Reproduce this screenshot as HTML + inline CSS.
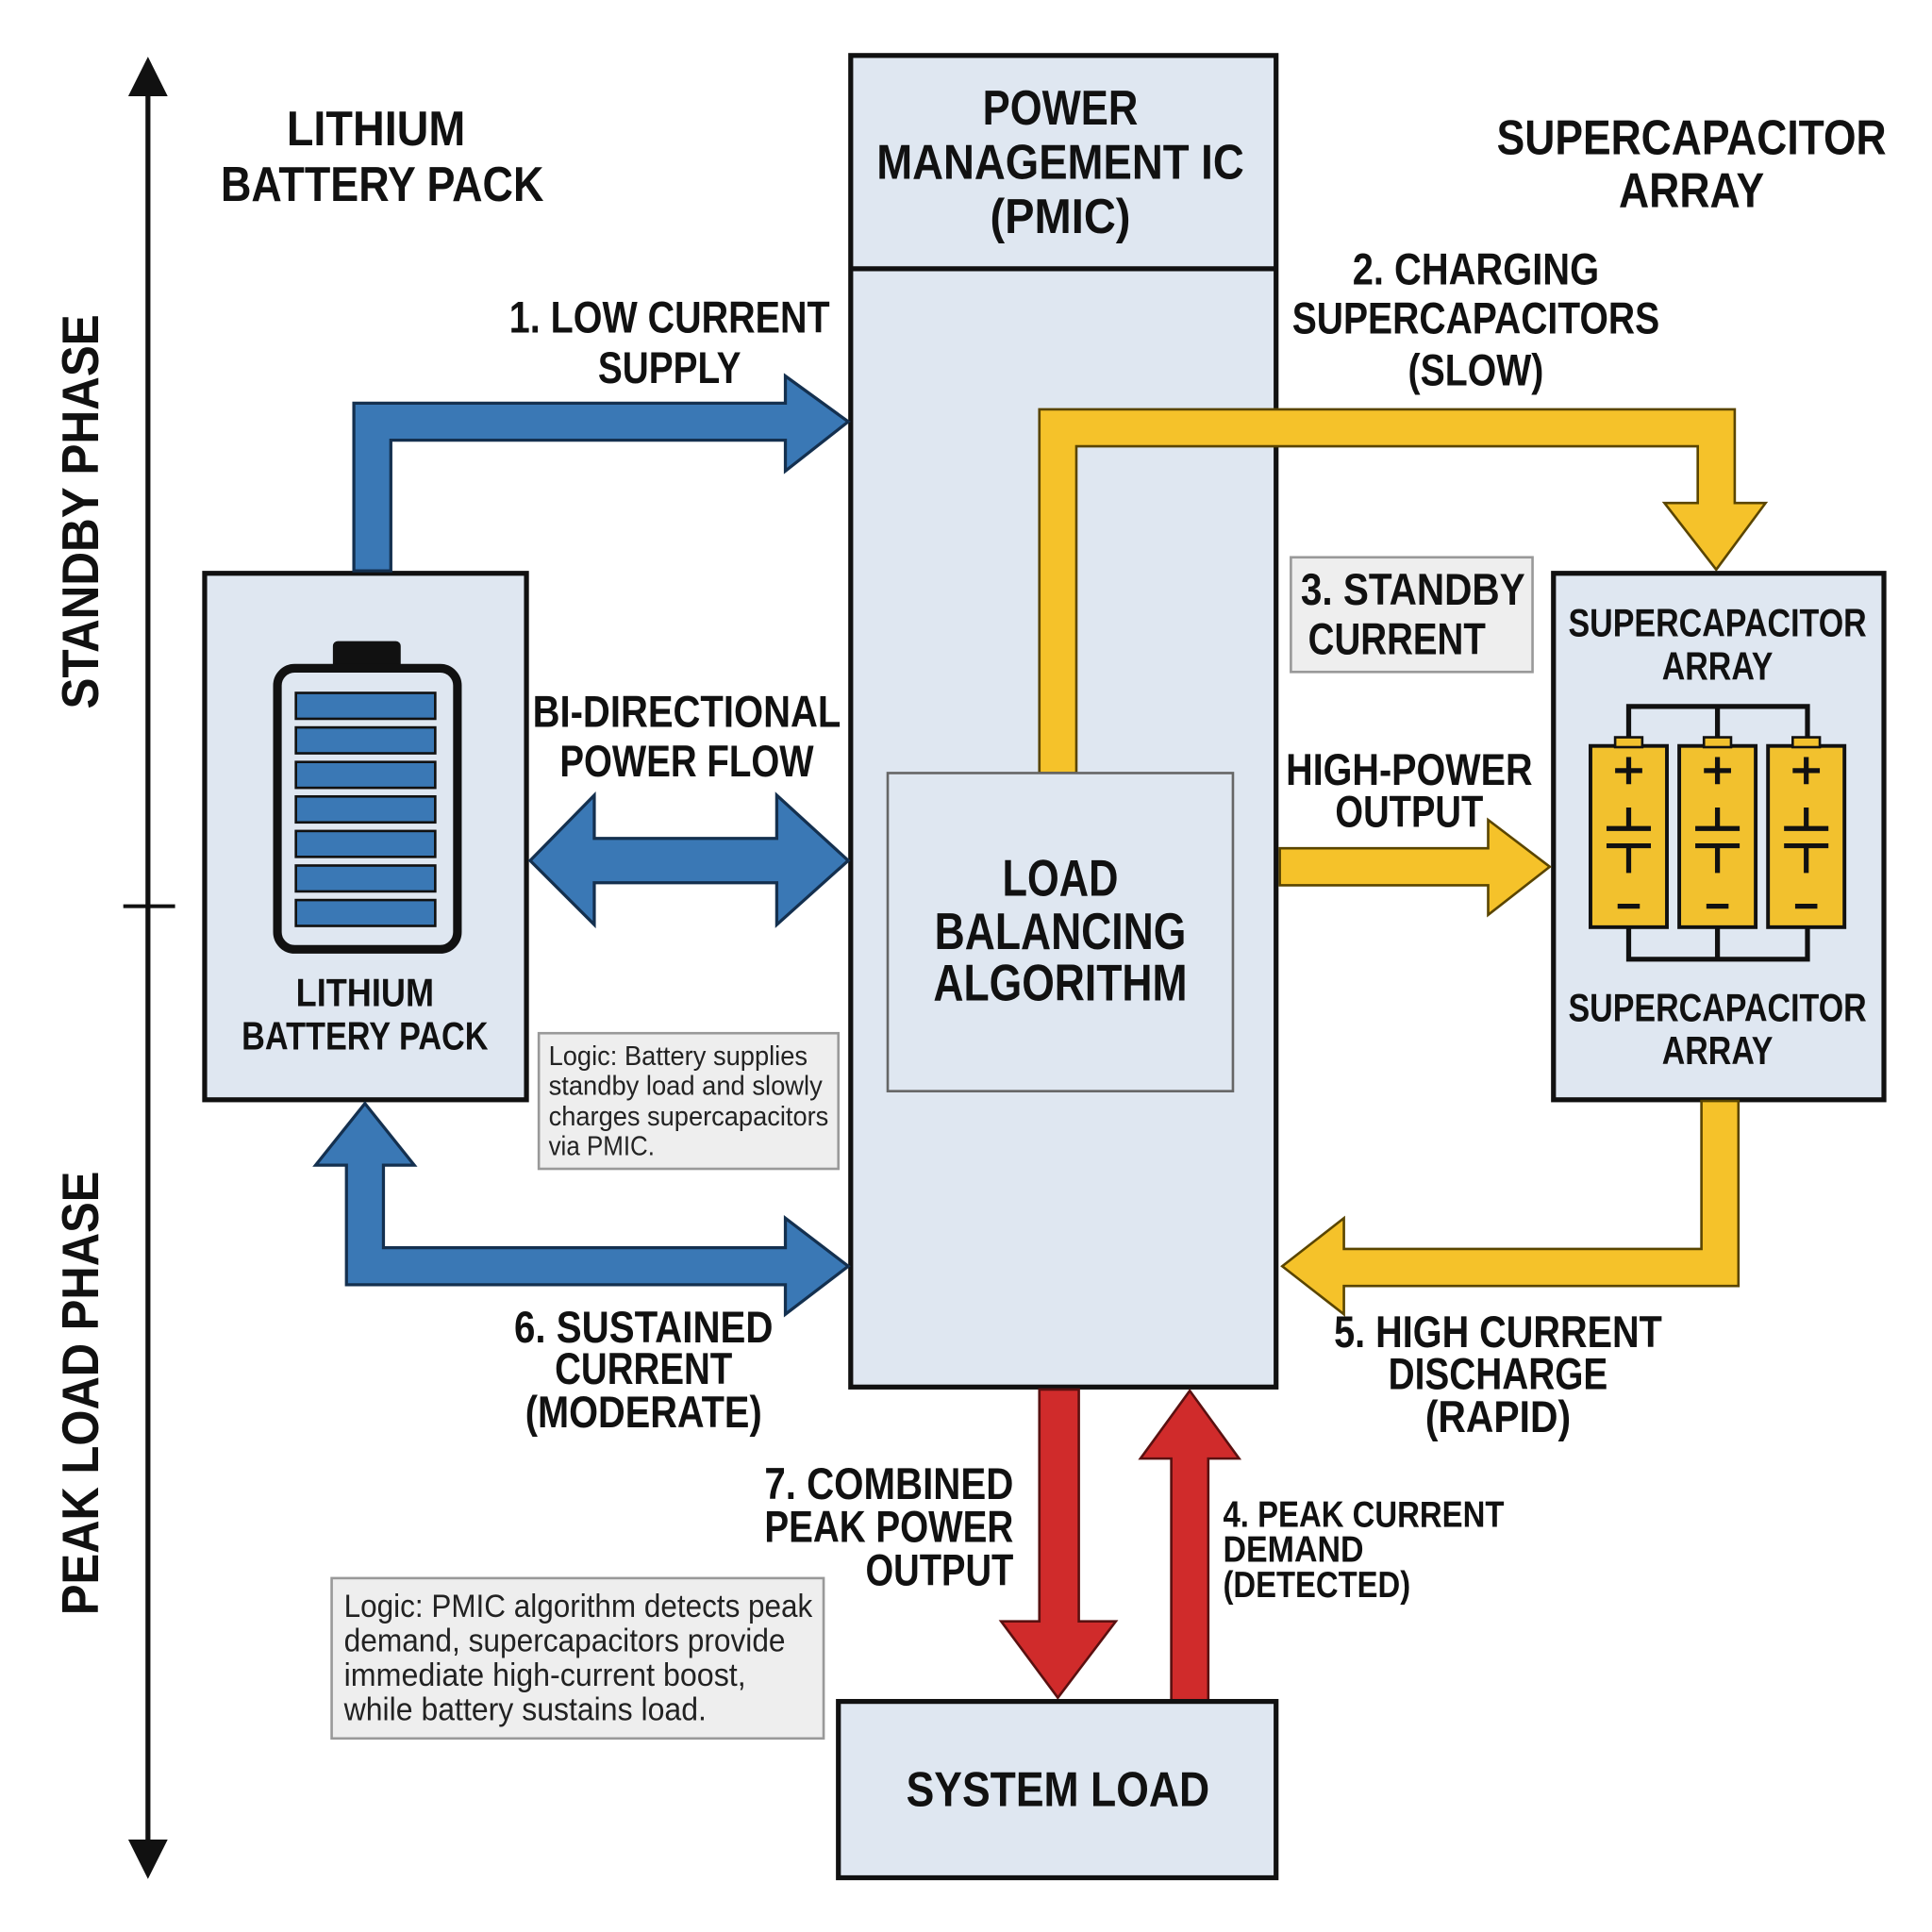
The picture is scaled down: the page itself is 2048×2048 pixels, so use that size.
<!DOCTYPE html>
<html><head><meta charset="utf-8"><style>
html,body{margin:0;padding:0;background:#fff}
svg{display:block}
text{font-family:"Liberation Sans Narrow","Liberation Sans",sans-serif;font-weight:bold;fill:#111;dominant-baseline:central}
.r{font-family:"Liberation Sans Narrow","Liberation Sans",sans-serif;font-weight:normal;fill:#222}
</style></head><body>
<svg width="2048" height="2048" viewBox="0 0 1567 1567" xmlns="http://www.w3.org/2000/svg">
<rect width="1567" height="1567" fill="#fff"/>
<line x1="120" y1="70" x2="120" y2="1500" stroke="#111" stroke-width="4"/>
<polygon points="120,46 104,78 136,78" fill="#111"/>
<polygon points="120,1524 104,1492 136,1492" fill="#111"/>
<line x1="100" y1="735" x2="142" y2="735" stroke="#111" stroke-width="3"/>
<text transform="translate(65,415) rotate(-90)" text-anchor="middle" font-size="42" textLength="320" lengthAdjust="spacingAndGlyphs">STANDBY PHASE</text>
<text transform="translate(65,1130) rotate(-90)" text-anchor="middle" font-size="42" textLength="360" lengthAdjust="spacingAndGlyphs">PEAK LOAD PHASE</text>
<text x="305" y="105" text-anchor="middle" font-size="40" textLength="145" lengthAdjust="spacingAndGlyphs">LITHIUM</text>
<text x="310" y="150" text-anchor="middle" font-size="40" textLength="262" lengthAdjust="spacingAndGlyphs">BATTERY PACK</text>
<text x="1372" y="112" text-anchor="middle" font-size="40" textLength="316" lengthAdjust="spacingAndGlyphs">SUPERCAPACITOR</text>
<text x="1372" y="155" text-anchor="middle" font-size="40" textLength="118" lengthAdjust="spacingAndGlyphs">ARRAY</text>
<rect x="690" y="45" width="345" height="1080" fill="#dfe7f1" stroke="#111" stroke-width="4"/>
<line x1="690" y1="218" x2="1035" y2="218" stroke="#111" stroke-width="4"/>
<text x="860" y="88" text-anchor="middle" font-size="40" textLength="126" lengthAdjust="spacingAndGlyphs">POWER</text>
<text x="860" y="132" text-anchor="middle" font-size="40" textLength="298" lengthAdjust="spacingAndGlyphs">MANAGEMENT IC</text>
<text x="860" y="176" text-anchor="middle" font-size="40" textLength="114" lengthAdjust="spacingAndGlyphs">(PMIC)</text>
<path d="M843,627 L843,332 L1407,332 L1407,408 L1432,408 L1392,462 L1350,408 L1377,408 L1377,362 L873,362 L873,627 Z" fill="#f5c22a" stroke="#5a4500" stroke-width="2"/>
<rect x="720" y="627" width="280" height="258" fill="#dfe7f1" stroke="#666" stroke-width="2"/>
<text x="860" y="712" text-anchor="middle" font-size="42" textLength="94" lengthAdjust="spacingAndGlyphs">LOAD</text>
<text x="860" y="755" text-anchor="middle" font-size="42" textLength="204" lengthAdjust="spacingAndGlyphs">BALANCING</text>
<text x="860" y="797" text-anchor="middle" font-size="42" textLength="206" lengthAdjust="spacingAndGlyphs">ALGORITHM</text>
<rect x="166" y="465" width="261" height="427" fill="#dfe7f1" stroke="#111" stroke-width="4"/>
<rect x="270" y="520" width="55" height="24" rx="4" fill="#111"/>
<rect x="225" y="542" width="146" height="228" rx="14" fill="#dfe7f1" stroke="#111" stroke-width="7"/>
<g fill="#3a78b5" stroke="#111" stroke-width="2">
<rect x="240" y="562" width="113" height="21"/><rect x="240" y="590" width="113" height="21"/><rect x="240" y="618" width="113" height="21"/><rect x="240" y="646" width="113" height="21"/><rect x="240" y="674" width="113" height="21"/><rect x="240" y="702" width="113" height="21"/><rect x="240" y="730" width="113" height="21"/>
</g>
<text x="296" y="805" text-anchor="middle" font-size="32" textLength="112" lengthAdjust="spacingAndGlyphs">LITHIUM</text>
<text x="296" y="840" text-anchor="middle" font-size="32" textLength="200" lengthAdjust="spacingAndGlyphs">BATTERY PACK</text>
<rect x="1260" y="465" width="268" height="427" fill="#dfe7f1" stroke="#111" stroke-width="4"/>
<text x="1393" y="505" text-anchor="middle" font-size="32" textLength="242" lengthAdjust="spacingAndGlyphs">SUPERCAPACITOR</text>
<text x="1393" y="540" text-anchor="middle" font-size="32" textLength="90" lengthAdjust="spacingAndGlyphs">ARRAY</text>
<text x="1393" y="817" text-anchor="middle" font-size="32" textLength="242" lengthAdjust="spacingAndGlyphs">SUPERCAPACITOR</text>
<text x="1393" y="852" text-anchor="middle" font-size="32" textLength="90" lengthAdjust="spacingAndGlyphs">ARRAY</text>
<g stroke="#111" stroke-width="4" fill="none">
<path d="M1321,600 L1321,573 L1466,573 L1466,600 M1393,573 L1393,600"/>
<path d="M1321,752 L1321,778 L1466,778 L1466,752 M1393,752 L1393,778"/>
</g>
<g>
<g transform="translate(1290,0)"><rect x="0" y="605" width="62" height="147" fill="#f2c12e" stroke="#111" stroke-width="3"/><rect x="20" y="598" width="22" height="8" fill="#f2c12e" stroke="#111" stroke-width="2"/>
<path d="M31,614 V636 M20,625 H42 M31,655 V672 M13,672 H49 M13,686 H49 M31,686 V708 M22,735 H40" stroke="#111" stroke-width="4"/></g>
<g transform="translate(1362,0)"><rect x="0" y="605" width="62" height="147" fill="#f2c12e" stroke="#111" stroke-width="3"/><rect x="20" y="598" width="22" height="8" fill="#f2c12e" stroke="#111" stroke-width="2"/>
<path d="M31,614 V636 M20,625 H42 M31,655 V672 M13,672 H49 M13,686 H49 M31,686 V708 M22,735 H40" stroke="#111" stroke-width="4"/></g>
<g transform="translate(1434,0)"><rect x="0" y="605" width="62" height="147" fill="#f2c12e" stroke="#111" stroke-width="3"/><rect x="20" y="598" width="22" height="8" fill="#f2c12e" stroke="#111" stroke-width="2"/>
<path d="M31,614 V636 M20,625 H42 M31,655 V672 M13,672 H49 M13,686 H49 M31,686 V708 M22,735 H40" stroke="#111" stroke-width="4"/></g>
</g>
<g fill="#3a78b5" stroke="#14304f" stroke-width="2.5">
<path d="M287,463 L287,327 L637,327 L637,305 L688,342 L637,382 L637,357 L317,357 L317,463 Z"/>
<path d="M430,698 L482,645 L482,680 L630,680 L630,645 L688,698 L630,750 L630,716 L482,716 L482,750 Z"/>
<path d="M296,895 L336,945 L311,945 L311,1012 L637,1012 L637,988 L688,1027 L637,1066 L637,1042 L281,1042 L281,945 L256,945 Z"/>
</g>
<g fill="#f5c22a" stroke="#5a4500" stroke-width="2">
<path d="M1038,688 L1207,688 L1207,665 L1257,703 L1207,742 L1207,718 L1038,718 Z"/>
<path d="M1380,893 L1410,893 L1410,1043 L1090,1043 L1090,1066 L1040,1027 L1090,988 L1090,1013 L1380,1013 Z"/>
</g>
<g fill="#d02b2b" stroke="#5a1010" stroke-width="2">
<path d="M843,1127 L875,1127 L875,1315 L905,1315 L858,1377 L812,1315 L843,1315 Z"/>
<path d="M965,1128 L1005,1183 L980,1183 L980,1380 L950,1380 L950,1183 L925,1183 Z"/>
</g>
<rect x="680" y="1380" width="355" height="143" fill="#dfe7f1" stroke="#111" stroke-width="4"/>
<text x="858" y="1452" text-anchor="middle" font-size="40" textLength="246" lengthAdjust="spacingAndGlyphs">SYSTEM LOAD</text>
<text x="673" y="257" text-anchor="end" font-size="36" textLength="260" lengthAdjust="spacingAndGlyphs">1. LOW CURRENT</text>
<text x="543" y="298" text-anchor="middle" font-size="36" textLength="116" lengthAdjust="spacingAndGlyphs">SUPPLY</text>
<text x="1197" y="218" text-anchor="middle" font-size="36" textLength="200" lengthAdjust="spacingAndGlyphs">2. CHARGING</text>
<text x="1197" y="258" text-anchor="middle" font-size="36" textLength="298" lengthAdjust="spacingAndGlyphs">SUPERCAPACITORS</text>
<text x="1197" y="300" text-anchor="middle" font-size="36" textLength="110" lengthAdjust="spacingAndGlyphs">(SLOW)</text>
<rect x="1047" y="452" width="196" height="93" fill="#eeeeee" stroke="#999" stroke-width="2"/>
<text x="1055" y="478" font-size="36" textLength="182" lengthAdjust="spacingAndGlyphs">3. STANDBY</text>
<text x="1061" y="518" font-size="36" textLength="144" lengthAdjust="spacingAndGlyphs">CURRENT</text>
<text x="557" y="577" text-anchor="middle" font-size="36" textLength="250" lengthAdjust="spacingAndGlyphs">BI-DIRECTIONAL</text>
<text x="557" y="617" text-anchor="middle" font-size="36" textLength="206" lengthAdjust="spacingAndGlyphs">POWER FLOW</text>
<text x="1143" y="624" text-anchor="middle" font-size="36" textLength="200" lengthAdjust="spacingAndGlyphs">HIGH-POWER</text>
<text x="1143" y="658" text-anchor="middle" font-size="36" textLength="120" lengthAdjust="spacingAndGlyphs">OUTPUT</text>
<rect x="437" y="838" width="243" height="110" fill="#eeeeee" stroke="#999" stroke-width="2"/>
<text class="r" x="445" y="857" font-size="22" textLength="210" lengthAdjust="spacingAndGlyphs">Logic: Battery supplies</text>
<text class="r" x="445" y="881" font-size="22" textLength="222" lengthAdjust="spacingAndGlyphs">standby load and slowly</text>
<text class="r" x="445" y="906" font-size="22" textLength="227" lengthAdjust="spacingAndGlyphs">charges supercapacitors</text>
<text class="r" x="445" y="930" font-size="22" textLength="86" lengthAdjust="spacingAndGlyphs">via PMIC.</text>
<text x="522" y="1076" text-anchor="middle" font-size="36" textLength="210" lengthAdjust="spacingAndGlyphs">6. SUSTAINED</text>
<text x="522" y="1110" text-anchor="middle" font-size="36" textLength="144" lengthAdjust="spacingAndGlyphs">CURRENT</text>
<text x="522" y="1145" text-anchor="middle" font-size="36" textLength="192" lengthAdjust="spacingAndGlyphs">(MODERATE)</text>
<text x="1215" y="1080" text-anchor="middle" font-size="36" textLength="266" lengthAdjust="spacingAndGlyphs">5. HIGH CURRENT</text>
<text x="1215" y="1114" text-anchor="middle" font-size="36" textLength="178" lengthAdjust="spacingAndGlyphs">DISCHARGE</text>
<text x="1215" y="1149" text-anchor="middle" font-size="36" textLength="118" lengthAdjust="spacingAndGlyphs">(RAPID)</text>
<text x="822" y="1203" text-anchor="end" font-size="36" textLength="202" lengthAdjust="spacingAndGlyphs">7. COMBINED</text>
<text x="822" y="1238" text-anchor="end" font-size="36" textLength="202" lengthAdjust="spacingAndGlyphs">PEAK POWER</text>
<text x="822" y="1273" text-anchor="end" font-size="36" textLength="120" lengthAdjust="spacingAndGlyphs">OUTPUT</text>
<text x="992" y="1229" font-size="30" textLength="228" lengthAdjust="spacingAndGlyphs">4. PEAK CURRENT</text>
<text x="992" y="1257" font-size="30" textLength="114" lengthAdjust="spacingAndGlyphs">DEMAND</text>
<text x="992" y="1286" font-size="30" textLength="152" lengthAdjust="spacingAndGlyphs">(DETECTED)</text>
<rect x="269" y="1280" width="399" height="130" fill="#eeeeee" stroke="#999" stroke-width="2"/>
<text class="r" x="279" y="1303" font-size="26" textLength="380" lengthAdjust="spacingAndGlyphs">Logic: PMIC algorithm detects peak</text>
<text class="r" x="279" y="1331" font-size="26" textLength="358" lengthAdjust="spacingAndGlyphs">demand, supercapacitors provide</text>
<text class="r" x="279" y="1359" font-size="26" textLength="326" lengthAdjust="spacingAndGlyphs">immediate high-current boost,</text>
<text class="r" x="279" y="1387" font-size="26" textLength="294" lengthAdjust="spacingAndGlyphs">while battery sustains load.</text>
</svg>
</body></html>
